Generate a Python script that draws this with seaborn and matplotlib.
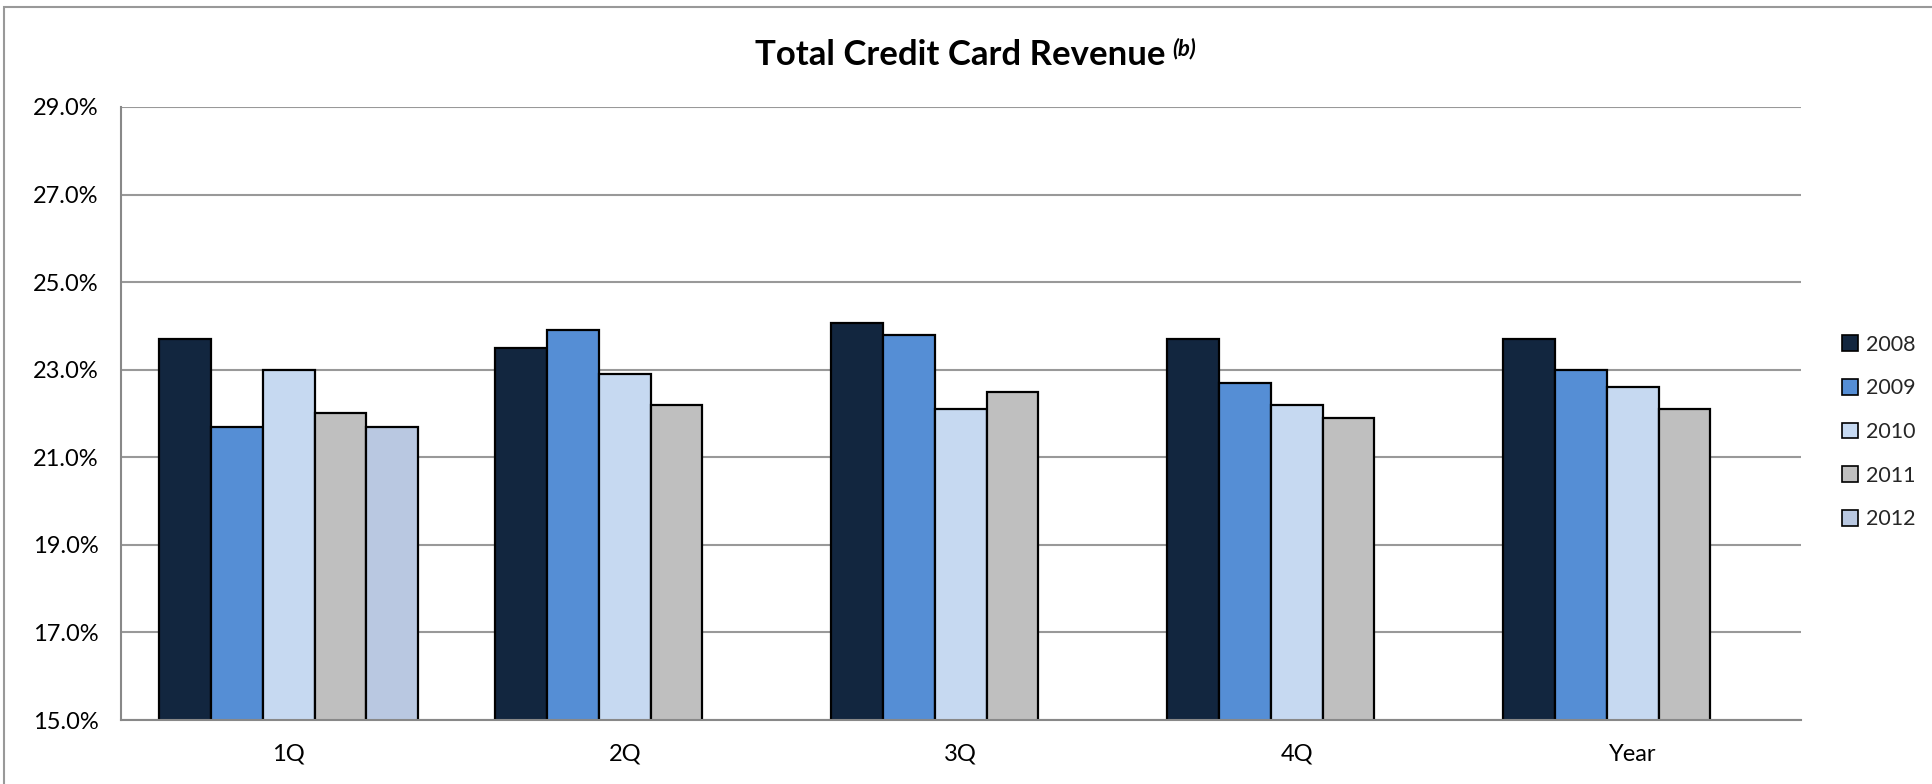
import matplotlib
matplotlib.use("Agg")
import matplotlib.pyplot as plt
import matplotlib.patches as mpatches
from matplotlib.ticker import FuncFormatter
import pandas as pd
import seaborn as sns

# data (percent)
PERIODS = ["1Q", "2Q", "3Q", "4Q", "Year"]
YEARS = ["2008", "2009", "2010", "2011", "2012"]
REV_2008 = [23.7, 23.5, 24.06, 23.7, 23.7]
REV_2009 = [21.7, 23.9, 23.8, 22.7, 23.0]
REV_2010 = [23.0, 22.9, 22.1, 22.2, 22.6]
REV_2011 = [22.0, 22.2, 22.5, 21.9, 22.1]
REV_2012 = [21.7]  # only 1Q reported
Y_TICKS = [15, 17, 19, 21, 23, 25, 27, 29]

COLORS = ["#12263F", "#558ED5", "#C6D9F1", "#BFBFBF", "#B9C8E1"]

sns.set_theme(style="white")
plt.rcParams["font.family"] = ["Lato", "DejaVu Sans"]

rows = []
for year, vals in zip(YEARS, [REV_2008, REV_2009, REV_2010, REV_2011, REV_2012]):
    for period, v in zip(PERIODS, vals):
        rows.append({"Period": period, "Year": year, "Revenue": v})
df = pd.DataFrame(rows)

fig = plt.figure(figsize=(19.32, 7.84), dpi=100)
ax = fig.add_axes([0.0625, 0.0816, 0.8695, 0.782])

sns.barplot(data=df, x="Period", y="Revenue", hue="Year", order=PERIODS,
            hue_order=YEARS, palette=COLORS, width=0.77, ax=ax,
            edgecolor="black", linewidth=1.6, saturation=1, errorbar=None)

ax.set_ylim(15, 29)
ax.set_yticks(Y_TICKS)
ax.yaxis.set_major_formatter(FuncFormatter(lambda v, _: f"{v:.1f}%"))
ax.set_xlim(-0.5, len(PERIODS) - 0.5)
ax.grid(axis="y", color="#999999", linewidth=1.5)
ax.set_axisbelow(True)
ax.set_xlabel("")
ax.set_ylabel("")
for side in ["top", "right"]:
    ax.spines[side].set_visible(False)
for side in ["left", "bottom"]:
    ax.spines[side].set_color("#888888")
    ax.spines[side].set_linewidth(1.5)
ax.tick_params(axis="both", length=0, labelsize=17, colors="black")
ax.tick_params(axis="y", pad=16)
ax.tick_params(axis="x", pad=17)

handles = [mpatches.Patch(facecolor=c, edgecolor="black", linewidth=1.2) for c in COLORS]
ax.legend(handles, YEARS, loc="center left", bbox_to_anchor=(0.949, 0.449),
          bbox_transform=fig.transFigure, frameon=False, fontsize=15.5,
          handlelength=0.75, handleheight=0.75, handletextpad=0.35,
          labelspacing=1.1, borderaxespad=0)

title = fig.text(0.497, 0.93, "Total Credit Card Revenue", ha="center", va="center",
                 fontsize=25, fontweight="bold", color="black")
ax.annotate("(b)", xy=(1, 1), xycoords=title, xytext=(5, 1),
            textcoords="offset points", va="top", ha="left", color="black",
            fontsize=16, fontweight="bold", style="italic", annotation_clip=False)

# outer chart border (only left and top edges visible in the crop)
fig.patches.append(mpatches.Rectangle((4 / 1932, -0.1), 1.2, 1.1 - 7 / 784,
                                      transform=fig.transFigure, fill=False,
                                      edgecolor="#999999", linewidth=1.5))

fig.savefig("out.png", dpi=100)
